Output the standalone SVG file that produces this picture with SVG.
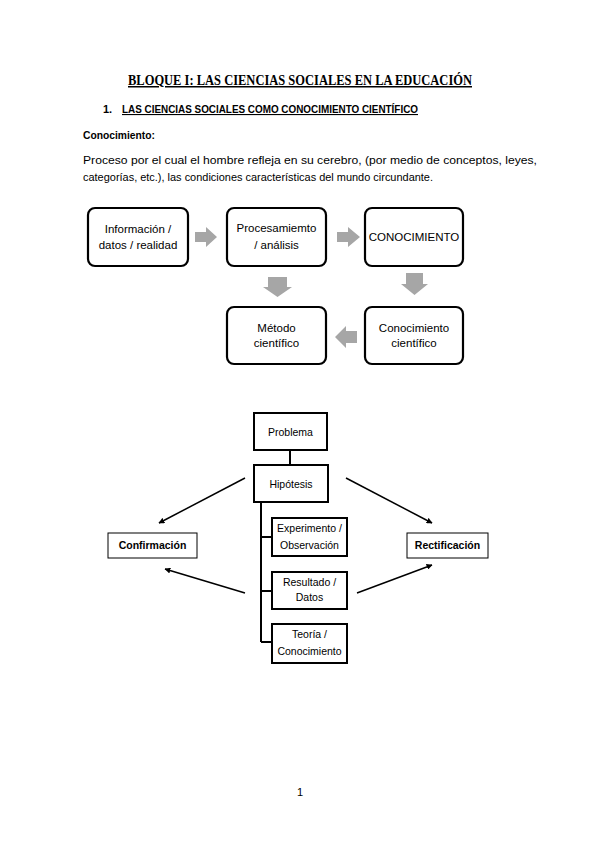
<svg xmlns="http://www.w3.org/2000/svg" width="599" height="848" viewBox="0 0 599 848">
<style>
.t{font-family:"Liberation Sans",Arial,sans-serif;fill:#000}
.s{font-family:"Liberation Serif","Times New Roman",serif;fill:#000}
.rb{fill:#fff;stroke:#000;stroke-width:2.2}
.bx{fill:#fff;stroke:#000;stroke-width:2}
.tn{fill:#fff;stroke:#000;stroke-width:1}
.ga{fill:#a6a6a6}
.ln{stroke:#000;stroke-width:2;fill:none}
.ar{stroke:#000;stroke-width:1.5;fill:none;marker-end:url(#ah)}
.c{text-anchor:middle}
</style>
<defs>
<marker id="ah" viewBox="0 0 10 10" refX="9" refY="5" markerWidth="6" markerHeight="6" orient="auto" markerUnits="userSpaceOnUse"><path d="M0,0 L10,5 L0,10 z" fill="#000"/></marker>
</defs>
<rect width="599" height="848" fill="#fff"/>
<text class="s c" x="300" y="85" font-size="15" font-weight="bold" text-decoration="underline" textLength="344" lengthAdjust="spacingAndGlyphs">BLOQUE I: LAS CIENCIAS SOCIALES EN LA EDUCACIÓN</text>
<text class="t" x="103" y="113" font-size="11" font-weight="bold">1.</text>
<text class="t" x="122" y="113" font-size="11" font-weight="bold" text-decoration="underline" textLength="296" lengthAdjust="spacingAndGlyphs">LAS CIENCIAS SOCIALES COMO CONOCIMIENTO CIENTÍFICO</text>
<text class="t" x="83" y="139" font-size="11" font-weight="bold" textLength="72" lengthAdjust="spacingAndGlyphs">Conocimiento:</text>
<text class="t" x="83" y="164" font-size="11" textLength="454" lengthAdjust="spacingAndGlyphs">Proceso por el cual el hombre refleja en su cerebro, (por medio de conceptos, leyes,</text>
<text class="t" x="83" y="181" font-size="11" textLength="350" lengthAdjust="spacingAndGlyphs">categorías, etc.), las condiciones características del mundo circundante.</text>

<g id="connectors">
<path class="ga" d="M195,232 H206 V227 L217,237 L206,247 V242 H195 z"/>
<path class="ga" d="M337,232 H348 V227 L360,237 L348,247 V242 H337 z"/>
<path class="ga" d="M268,277 H287 V287 H292 L277.5,297 L263,287 H268 z"/>
<path class="ga" d="M406,273 H423 V284 H428 L414.5,295 L401,284 H406 z"/>
<path class="ga" d="M357,331 H346 V326 L335,337 L346,348 V343 H357 z"/>
<line class="ln" x1="290" y1="450" x2="290" y2="465"/>
<line class="ln" x1="261" y1="502" x2="261" y2="642"/>
<line class="ln" x1="261" y1="537" x2="272" y2="537"/>
<line class="ln" x1="261" y1="591" x2="272" y2="591"/>
<line class="ln" x1="261" y1="642" x2="272" y2="642"/>
<line class="ar" x1="245" y1="478" x2="159" y2="523"/>
<line class="ar" x1="346" y1="478" x2="432" y2="523"/>
<line class="ar" x1="245" y1="593" x2="165" y2="569"/>
<line class="ar" x1="357" y1="593" x2="432" y2="565"/>
</g>

<g id="n-informacion"><rect class="rb" x="88" y="208" width="100" height="58" rx="7"/><text class="t c" x="138" y="233" font-size="11.5">Información /</text><text class="t c" x="138" y="249" font-size="11.5">datos / realidad</text></g>
<g id="n-procesamiento"><rect class="rb" x="227" y="208" width="99" height="58" rx="7"/><text class="t c" x="276.5" y="232" font-size="11.5">Procesamiemto</text><text class="t c" x="276.5" y="249" font-size="11.5">/ análisis</text></g>
<g id="n-conocimiento"><rect class="rb" x="365" y="208" width="98" height="58" rx="7"/><text class="t c" x="414" y="241" font-size="11.5">CONOCIMIENTO</text></g>
<g id="n-metodo"><rect class="rb" x="227" y="307" width="99" height="57" rx="7"/><text class="t c" x="276.5" y="332" font-size="11.5">Método</text><text class="t c" x="276.5" y="347" font-size="11.5">científico</text></g>
<g id="n-conocimiento-cientifico"><rect class="rb" x="365" y="307" width="98" height="57" rx="7"/><text class="t c" x="414" y="332" font-size="11.5">Conocimiento</text><text class="t c" x="414" y="347" font-size="11.5">científico</text></g>

<g id="n-problema"><rect class="bx" x="254" y="413" width="73" height="37"/><text class="t c" x="290.5" y="436" font-size="10.5">Problema</text></g>
<g id="n-hipotesis"><rect class="bx" x="254" y="465" width="74" height="37"/><text class="t c" x="291" y="488" font-size="10.5">Hipótesis</text></g>
<g id="n-experimento"><rect class="bx" x="272" y="518" width="75" height="38"/><text class="t c" x="309.5" y="532" font-size="10.5">Experimento /</text><text class="t c" x="309.5" y="549" font-size="10.5">Observación</text></g>
<g id="n-resultado"><rect class="bx" x="272" y="572" width="75" height="37"/><text class="t c" x="309.5" y="586" font-size="10.5">Resultado /</text><text class="t c" x="309.5" y="601" font-size="10.5">Datos</text></g>
<g id="n-teoria"><rect class="bx" x="272" y="624" width="75" height="39"/><text class="t c" x="309.5" y="638" font-size="10.5">Teoría /</text><text class="t c" x="309.5" y="655" font-size="10.5">Conocimiento</text></g>
<g id="n-confirmacion"><rect class="tn" x="108" y="533" width="89" height="25"/><text class="t c" x="152.5" y="549" font-size="10.5" font-weight="bold">Confirmación</text></g>
<g id="n-rectificacion"><rect class="tn" x="407" y="533" width="81" height="25"/><text class="t c" x="447.5" y="549" font-size="10.5" font-weight="bold">Rectificación</text></g>

<text class="t c" x="300" y="796" font-size="11">1</text>
</svg>
